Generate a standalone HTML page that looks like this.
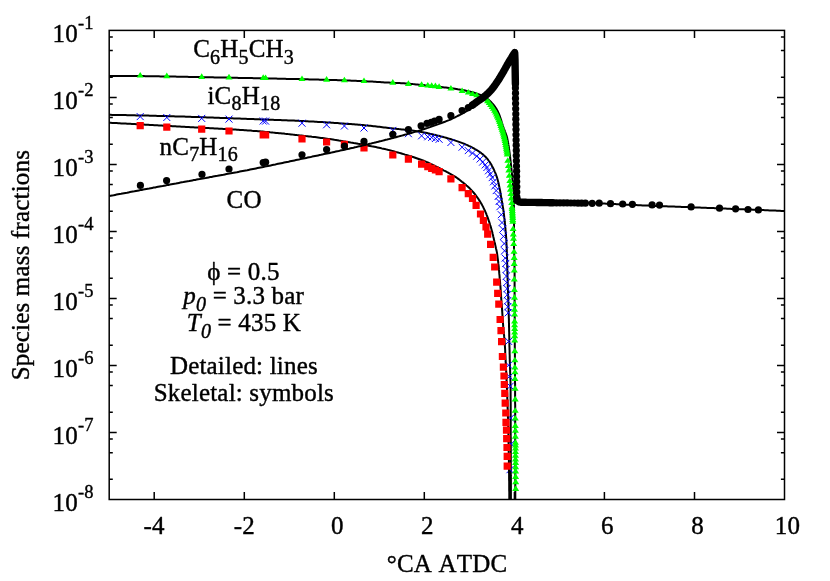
<!DOCTYPE html>
<html><head><meta charset="utf-8"><title>Species mass fractions</title>
<style>html,body{margin:0;padding:0;background:#fff}body{width:830px;height:581px;overflow:hidden;font-family:"Liberation Serif",serif}svg{display:block;will-change:transform}</style></head>
<body>
<svg width="830" height="581" viewBox="0 0 830 581">
<rect width="830" height="581" fill="#fff"/>
<path d="M109.2,36.9h3.6M784.5,36.9h-3.6M109.2,50.6h3.6M784.5,50.6h-3.6M109.2,77.2h3.6M784.5,77.2h-3.6M109.2,97.4h7.5M784.5,97.4h-7.5M109.2,103.9h3.6M784.5,103.9h-3.6M109.2,117.6h3.6M784.5,117.6h-3.6M109.2,144.3h3.6M784.5,144.3h-3.6M109.2,164.4h7.5M784.5,164.4h-7.5M109.2,170.9h3.6M784.5,170.9h-3.6M109.2,184.6h3.6M784.5,184.6h-3.6M109.2,211.3h3.6M784.5,211.3h-3.6M109.2,231.4h7.5M784.5,231.4h-7.5M109.2,237.9h3.6M784.5,237.9h-3.6M109.2,251.6h3.6M784.5,251.6h-3.6M109.2,278.3h3.6M784.5,278.3h-3.6M109.2,298.5h7.5M784.5,298.5h-7.5M109.2,305h3.6M784.5,305h-3.6M109.2,318.6h3.6M784.5,318.6h-3.6M109.2,345.3h3.6M784.5,345.3h-3.6M109.2,365.5h7.5M784.5,365.5h-7.5M109.2,372h3.6M784.5,372h-3.6M109.2,385.6h3.6M784.5,385.6h-3.6M109.2,412.3h3.6M784.5,412.3h-3.6M109.2,432.5h7.5M784.5,432.5h-7.5M109.2,439h3.6M784.5,439h-3.6M109.2,452.7h3.6M784.5,452.7h-3.6M109.2,479.3h3.6M784.5,479.3h-3.6M154.2,499.5v-7.5M154.2,30.4v7.5M244.3,499.5v-7.5M244.3,30.4v7.5M334.3,499.5v-7.5M334.3,30.4v7.5M424.3,499.5v-7.5M424.3,30.4v7.5M514.4,499.5v-7.5M514.4,30.4v7.5M604.4,499.5v-7.5M604.4,30.4v7.5M694.5,499.5v-7.5M694.5,30.4v7.5" stroke="#000" stroke-width="1.5" fill="none"/>
<path d="M109.2,114.8L110.7,114.8L112.2,114.9L113.7,114.9L115.2,114.9L116.7,114.9L118.2,115L119.7,115L121.2,115L122.7,115.1L124.2,115.1L125.7,115.1L127.2,115.2L128.7,115.2L130.2,115.2L131.7,115.3L133.2,115.3L134.7,115.3L136.3,115.4L137.8,115.4L139.3,115.4L140.8,115.5L142.3,115.5L143.8,115.5L145.3,115.6L146.8,115.6L148.3,115.6L149.8,115.7L151.3,115.7L152.8,115.8L154.3,115.8L155.8,115.8L157.3,115.9L158.8,115.9L160.3,116L161.8,116L163.3,116L164.8,116.1L166.3,116.1L167.8,116.2L169.3,116.2L170.8,116.2L172.3,116.3L173.8,116.3L175.3,116.4L176.8,116.4L178.3,116.5L179.8,116.5L181.3,116.5L182.8,116.6L184.3,116.6L185.8,116.7L187.3,116.7L188.8,116.8L190.3,116.8L191.8,116.9L193.3,116.9L194.9,117L196.4,117L197.9,117.1L199.4,117.1L200.9,117.2L202.4,117.2L203.9,117.3L205.4,117.3L206.9,117.4L208.4,117.4L209.9,117.5L211.4,117.5L212.9,117.6L214.4,117.7L215.9,117.7L217.4,117.8L218.9,117.8L220.4,117.9L221.9,117.9L223.4,118L224.9,118L226.4,118.1L227.9,118.2L229.4,118.2L230.9,118.3L232.4,118.3L233.9,118.4L235.4,118.4L236.9,118.5L238.4,118.6L239.9,118.6L241.4,118.7L242.9,118.7L244.4,118.8L245.9,118.8L247.4,118.9L248.9,119L250.4,119L251.9,119.1L253.4,119.1L254.9,119.2L256.4,119.2L257.9,119.3L259.4,119.3L260.9,119.4L262.4,119.4L264,119.5L265.5,119.6L267,119.6L268.5,119.7L270,119.7L271.5,119.8L273,119.8L274.5,119.9L276,119.9L277.5,120L279,120L280.5,120.1L282,120.2L283.5,120.2L285,120.3L286.5,120.3L288,120.4L289.5,120.4L291,120.5L292.5,120.6L294,120.6L295.5,120.7L297,120.8L298.5,120.8L300,120.9L301.5,121L303,121L304.5,121.1L306,121.2L307.5,121.3L309,121.4L310.5,121.4L312,121.5L313.5,121.6L315,121.7L316.5,121.8L318,121.9L319.5,122L321,122.1L322.5,122.1L324,122.2L325.5,122.3L327,122.4L328.5,122.5L330,122.6L331.5,122.7L333,122.8L334.5,122.9L336,123L337.5,123.1L339,123.2L340.5,123.4L342,123.5L343.5,123.6L345,123.7L346.5,123.8L348,123.9L349.5,124L351,124.1L352.5,124.2L354,124.3L355.5,124.5L357,124.6L358.5,124.7L360,124.8L361.5,125L363,125.1L364.5,125.2L366,125.4L367.5,125.5L369,125.7L370.5,125.8L372,126L373.5,126.2L374.9,126.3L376.4,126.5L377.9,126.7L379.4,126.8L380.9,127L382.4,127.2L383.9,127.4L385.4,127.5L386.9,127.7L388.4,127.9L389.9,128.1L391.4,128.2L392.9,128.4L394.4,128.6L395.9,128.7L397.4,128.9L398.9,129.1L400.3,129.2L401.8,129.4L403.3,129.5L404.8,129.7L406.3,129.9L407.8,130L409.3,130.2L410.8,130.4L412.3,130.6L413.8,130.8L415.3,131L416.8,131.2L418.2,131.4L419.7,131.7L421.2,131.9L422.7,132.2L424.2,132.5L425.6,132.8L427.1,133.1L428.6,133.4L430,133.8L431.5,134.1L433,134.4L434.4,134.8L435.9,135.1L437.4,135.5L438.8,135.8L440.3,136.2L441.7,136.6L443.2,137L444.6,137.4L446.1,137.8L447.5,138.2L449,138.6L450.4,139L451.8,139.5L453.3,139.9L454.7,140.4L456.1,140.9L457.6,141.4L459,141.9L460.4,142.4L461.8,142.9L463.2,143.4L464.6,144L466,144.6L467.4,145.1L468.7,145.8L470.1,146.4L471.5,147.1L472.8,147.8L474.1,148.5L475.4,149.3L476.7,150L478,150.8L479.2,151.7L480.5,152.5L481.7,153.5L482.9,154.4L484,155.4L485.1,156.4L486.1,157.5L487.1,158.6L488,159.7L488.9,161L489.8,162.2L490.6,163.5L491.4,164.8L492.1,166.2L492.8,167.5L493.5,168.8L494.1,170.2L494.7,171.6L495.3,172.9L495.9,174.4L496.4,175.8L496.9,177.2L497.3,178.6L497.7,180.1L498.1,181.5L498.5,183L498.8,184.5L499.1,185.9L499.4,187.4L499.7,188.9L500,190.3L500.3,191.8L500.5,193.3L500.8,194.8L501,196.3L501.3,197.8L501.6,199.2L501.8,200.7L502.1,202.2L502.3,203.7L502.6,205.2L502.8,206.6L503.1,208.1L503.3,209.6L503.5,211.1L503.7,212.6L503.9,214.1L504.1,215.6L504.2,217.1L504.4,218.6L504.6,220.1L504.7,221.5L504.9,223L505,224.5L505.2,226L505.3,227.5L505.4,229L505.6,230.5L505.7,232L505.8,233.5L505.9,235L506.1,236.5L506.2,238L506.3,239.5L506.4,241L506.4,242.5L506.5,244L506.6,245.5L506.6,247L506.7,248.5L506.8,250L506.8,251.5L506.9,253L506.9,254.5L507,256L507,257.5L507.1,259L507.1,260.5L507.1,262L507.2,263.6L507.2,265.1L507.2,266.6L507.3,268.1L507.3,269.6L507.4,271.1L507.4,272.6L507.4,274.1L507.5,275.6L507.5,277.1L507.6,278.6L507.6,280.1L507.7,281.6L507.7,283.1L507.8,284.6L507.8,286.1L507.9,287.6L507.9,289.1L508,290.6L508,292.1L508.1,293.6L508.1,295.1L508.2,296.6L508.2,298.1L508.3,299.6L508.3,301.1L508.4,302.6L508.4,304.1L508.5,305.6L508.5,307.1L508.6,308.6L508.6,310.1L508.6,311.6L508.7,313.1L508.7,314.6L508.8,316.1L508.8,317.6L508.9,319.1L508.9,320.6L508.9,322.2L509,323.7L509,325.2L509,326.7L509.1,328.2L509.1,329.7L509.1,331.2L509.2,332.7L509.2,334.2L509.2,335.7L509.3,337.2L509.3,338.7L509.3,340.2L509.3,341.7L509.4,343.2L509.4,344.7L509.4,346.2L509.5,347.7L509.5,349.2L509.6,350.7L509.6,352.2L509.6,353.7L509.7,355.2L509.7,356.7L509.7,358.2L509.8,359.7L509.8,361.2L509.9,362.7L509.9,364.2L509.9,365.7L510,367.2L510,368.7L510.1,370.2L510.1,371.7L510.2,373.2L510.2,374.7L510.3,376.2L510.3,377.8L510.4,379.3L510.4,380.8L510.5,382.3L510.5,383.8L510.5,385.3L510.6,386.8L510.6,388.3L510.6,389.8L510.6,391.3L510.6,392.8L510.6,394.3L510.6,395.8L510.6,397.3L510.6,398.8L510.6,400.3L510.7,401.8L510.7,403.3L510.7,404.8L510.7,406.3L510.7,407.8L510.7,409.3L510.7,410.8L510.7,412.3L510.7,413.8L510.7,415.3L510.7,416.8L510.7,418.3L510.7,419.8L510.7,421.3L510.7,422.8L510.7,424.3L510.7,425.8L510.7,427.3L510.7,428.9L510.7,430.4L510.7,431.9L510.7,433.4L510.7,434.9L510.7,436.4L510.8,437.9L510.8,439.4L510.8,440.9L510.8,442.4L510.8,443.9L510.8,445.4L510.8,446.9L510.8,448.4L510.8,449.9L510.8,451.4L510.8,452.9L510.8,454.4L510.8,455.9L510.8,457.4L510.8,458.9L510.8,460.4L510.8,461.9L510.8,463.4L510.8,464.9L510.8,466.4L510.8,467.9L510.8,469.4L510.8,470.9L510.8,472.4L510.8,473.9L510.8,475.4L510.9,477L510.9,478.5L510.9,480L510.9,481.5L510.9,483L510.9,484.5L510.9,486L510.9,487.5L510.9,489L510.9,490.5L510.9,492L510.9,493.5L510.9,495L510.9,496.5L510.9,498L510.9,499.5" fill="none" stroke="#000" stroke-width="2" stroke-linejoin="round"/>
<path d="M136.7,113.1l7,7M136.7,120.1l7,-7M163.3,114l7,7M163.3,121l7,-7M198.2,114.9l7,7M198.2,121.9l7,-7M225.5,115.6l7,7M225.5,122.6l7,-7M259.7,117.5l7,7M259.7,124.5l7,-7M262.1,117.6l7,7M262.1,124.6l7,-7M298.5,119.7l7,7M298.5,126.7l7,-7M323.1,121.3l7,7M323.1,128.3l7,-7M340.9,122.5l7,7M340.9,129.5l7,-7M360.5,124.5l7,7M360.5,131.5l7,-7M389.3,126.9l7,7M389.3,133.9l7,-7M404.9,130.2l7,7M404.9,137.2l7,-7M418.1,132.3l7,7M418.1,139.3l7,-7M424.3,133.3l7,7M424.3,140.3l7,-7M428.2,133.9l7,7M428.2,140.9l7,-7M431.9,135l7,7M431.9,142l7,-7M435.6,135.8l7,7M435.6,142.8l7,-7M447.4,139l7,7M447.4,146l7,-7M458.6,143.7l7,7M458.6,150.7l7,-7M464.8,147.1l7,7M464.8,154.1l7,-7M469,149.6l7,7M469,156.6l7,-7M473.2,152.7l7,7M473.2,159.7l7,-7M476.6,155.5l7,7M476.6,162.5l7,-7M479.1,158.6l7,7M479.1,165.6l7,-7M481.7,161.4l7,7M481.7,168.4l7,-7M483.4,164l7,7M483.4,171l7,-7M485,167.3l7,7M485,174.3l7,-7M486.7,170.7l7,7M486.7,177.7l7,-7M488.7,174.1l7,7M488.7,181.1l7,-7M490,178.3l7,7M490,185.3l7,-7M491.3,182.5l7,7M491.3,189.5l7,-7M492.7,187.1l7,7M492.7,194.1l7,-7M494.6,193l7,7M494.6,200l7,-7M495.6,198l7,7M495.6,205l7,-7M496.4,203.2l7,7M496.4,210.2l7,-7M497.8,211.2l7,7M497.8,218.2l7,-7M498.5,219.1l7,7M498.5,226.1l7,-7M499.3,225.7l7,7M499.3,232.7l7,-7M500,232.9l7,7M500,239.9l7,-7M500.7,240.1l7,7M500.7,247.1l7,-7M501.1,247.3l7,7M501.1,254.3l7,-7M501.7,254.6l7,7M501.7,261.6l7,-7M502.3,259.9l7,7M502.3,266.9l7,-7M502.6,266l7,7M502.6,273l7,-7M502.9,272.6l7,7M502.9,279.6l7,-7M503.2,279l7,7M503.2,286l7,-7M503.5,285.2l7,7M503.5,292.2l7,-7M503.8,291.3l7,7M503.8,298.3l7,-7M504.1,297.3l7,7M504.1,304.3l7,-7M504.3,303.3l7,7M504.3,310.3l7,-7M504.7,309.3l7,7M504.7,316.3l7,-7M505.1,337.9l7,7M505.1,344.9l7,-7M505.1,361.7l7,7M505.1,368.7l7,-7M505.9,373.1l7,7M505.9,380.1l7,-7M506.7,382.7l7,7M506.7,389.7l7,-7M507.1,414.6l7,7M507.1,421.6l7,-7M507.7,440.5l7,7M507.7,447.5l7,-7M506.5,466.2l7,7M506.5,473.2l7,-7" stroke="#00f" stroke-width="1" fill="none"/>
<path d="M109.2,122.7L110.7,122.8L112.2,122.9L113.7,122.9L115.2,123L116.7,123.1L118.2,123.2L119.7,123.3L121.2,123.4L122.7,123.4L124.2,123.5L125.7,123.6L127.2,123.7L128.8,123.8L130.3,123.8L131.8,123.9L133.3,124L134.8,124.1L136.3,124.2L137.8,124.3L139.3,124.3L140.8,124.4L142.3,124.5L143.8,124.6L145.3,124.7L146.8,124.8L148.3,124.8L149.8,124.9L151.3,125L152.8,125.1L154.3,125.2L155.8,125.3L157.3,125.3L158.8,125.4L160.3,125.5L161.8,125.6L163.3,125.7L164.8,125.8L166.3,125.8L167.9,125.9L169.4,126L170.9,126.1L172.4,126.2L173.9,126.3L175.4,126.3L176.9,126.4L178.4,126.5L179.9,126.6L181.4,126.7L182.9,126.8L184.4,126.8L185.9,126.9L187.4,127L188.9,127.1L190.4,127.2L191.9,127.2L193.4,127.3L194.9,127.4L196.4,127.5L197.9,127.6L199.4,127.6L200.9,127.7L202.4,127.8L204,127.9L205.5,128L207,128L208.5,128.1L210,128.2L211.5,128.3L213,128.3L214.5,128.4L216,128.5L217.5,128.6L219,128.7L220.5,128.8L222,128.8L223.5,128.9L225,129L226.5,129.1L228,129.2L229.5,129.3L231,129.4L232.5,129.4L234,129.5L235.5,129.6L237,129.7L238.5,129.8L240,129.9L241.5,130L243,130.1L244.6,130.2L246.1,130.3L247.6,130.4L249.1,130.5L250.6,130.6L252.1,130.8L253.6,130.9L255.1,131L256.6,131.1L258.1,131.2L259.6,131.3L261.1,131.5L262.6,131.6L264.1,131.7L265.6,131.9L267.1,132L268.6,132.1L270.1,132.3L271.6,132.4L273.1,132.6L274.6,132.7L276.1,132.9L277.6,133L279.1,133.2L280.6,133.3L282.1,133.5L283.6,133.6L285.1,133.8L286.6,133.9L288.1,134.1L289.6,134.2L291.1,134.4L292.5,134.6L294,134.7L295.5,134.9L297,135.1L298.5,135.2L300,135.4L301.5,135.5L303,135.7L304.5,135.9L306,136.1L307.5,136.2L309,136.4L310.5,136.6L312,136.8L313.5,136.9L315,137.1L316.5,137.3L318,137.5L319.5,137.7L321,137.9L322.5,138.1L324,138.3L325.5,138.5L326.9,138.7L328.4,138.9L329.9,139.1L331.4,139.3L332.9,139.5L334.4,139.8L335.9,140L337.4,140.2L338.9,140.5L340.3,140.7L341.8,140.9L343.3,141.2L344.8,141.4L346.3,141.7L347.8,141.9L349.3,142.2L350.7,142.5L352.2,142.7L353.7,143L355.2,143.2L356.7,143.5L358.2,143.8L359.6,144L361.1,144.3L362.6,144.6L364.1,144.9L365.6,145.1L367,145.4L368.5,145.7L370,146L371.5,146.3L373,146.5L374.4,146.8L375.9,147.1L377.4,147.4L378.9,147.7L380.3,148L381.8,148.4L383.3,148.7L384.8,149L386.2,149.4L387.7,149.8L389.1,150.1L390.6,150.5L392.1,150.9L393.5,151.3L395,151.7L396.4,152.1L397.9,152.5L399.3,152.9L400.8,153.3L402.2,153.7L403.7,154.1L405.1,154.6L406.5,155L408,155.4L409.4,155.9L410.9,156.3L412.3,156.8L413.8,157.2L415.2,157.7L416.6,158.2L418,158.7L419.5,159.2L420.9,159.7L422.3,160.2L423.7,160.7L425.1,161.3L426.4,161.9L427.8,162.5L429.2,163.1L430.6,163.8L431.9,164.4L433.3,165.1L434.6,165.8L436,166.5L437.3,167.1L438.7,167.8L440,168.5L441.3,169.2L442.7,169.9L444,170.6L445.4,171.2L446.7,171.9L448.1,172.6L449.4,173.4L450.7,174.1L452,174.8L453.3,175.6L454.6,176.4L455.9,177.2L457.1,178L458.3,178.9L459.5,179.8L460.7,180.7L461.9,181.7L463.1,182.6L464.2,183.6L465.4,184.6L466.5,185.6L467.7,186.6L468.8,187.6L469.9,188.6L471,189.7L472,190.8L473,191.9L473.9,193L474.9,194.2L475.8,195.4L476.7,196.6L477.6,197.8L478.5,199.1L479.3,200.4L480.1,201.6L480.9,202.9L481.7,204.3L482.4,205.6L483.1,206.9L483.7,208.2L484.4,209.6L485,210.9L485.6,212.3L486.2,213.7L486.7,215.1L487.3,216.5L487.8,217.9L488.3,219.4L488.8,220.8L489.3,222.2L489.8,223.7L490.2,225.1L490.7,226.5L491.1,228L491.5,229.4L491.9,230.9L492.3,232.3L492.6,233.8L493,235.3L493.3,236.7L493.7,238.2L494,239.7L494.3,241.2L494.7,242.6L495,244.1L495.4,245.6L495.7,247L496,248.5L496.4,250L496.7,251.4L497,252.9L497.2,254.4L497.4,255.9L497.6,257.4L497.8,258.9L498,260.4L498.2,261.9L498.3,263.4L498.5,264.9L498.7,266.4L498.8,267.9L498.9,269.4L499.1,270.9L499.2,272.4L499.3,273.9L499.5,275.4L499.6,276.9L499.7,278.4L499.9,279.9L500,281.4L500.1,282.9L500.2,284.4L500.4,285.9L500.5,287.4L500.6,288.9L500.7,290.4L500.8,291.9L500.9,293.4L501,294.9L501.1,296.4L501.2,297.9L501.3,299.4L501.4,300.9L501.5,302.4L501.7,303.9L501.8,305.4L501.9,306.9L502,308.4L502.1,309.9L502.2,311.4L502.3,312.9L502.4,314.4L502.5,315.9L502.6,317.4L502.7,318.9L502.8,320.4L502.9,321.9L503,323.4L503.1,324.9L503.2,326.4L503.4,327.9L503.5,329.4L503.6,330.9L503.8,332.4L503.9,333.9L504.1,335.4L504.2,336.9L504.4,338.4L504.5,339.9L504.6,341.4L504.7,342.9L504.8,344.4L504.9,345.9L505,347.4L505.1,349L505.2,350.5L505.2,352L505.3,353.5L505.4,355L505.5,356.5L505.5,358L505.6,359.5L505.7,361L505.7,362.5L505.8,364L505.9,365.5L505.9,367L506,368.5L506.1,370L506.2,371.5L506.2,373L506.3,374.5L506.4,376L506.5,377.5L506.5,379L506.6,380.5L506.7,382.1L506.7,383.6L506.8,385.1L506.9,386.6L506.9,388.1L507,389.6L507,391.1L507.1,392.6L507.2,394.1L507.2,395.6L507.3,397.1L507.3,398.6L507.4,400.1L507.4,401.6L507.5,403.1L507.5,404.6L507.6,406.1L507.6,407.6L507.7,409.1L507.7,410.7L507.8,412.2L507.8,413.7L507.9,415.2L507.9,416.7L508,418.2L508,419.7L508.1,421.2L508.1,422.7L508.1,424.2L508.2,425.7L508.2,427.2L508.3,428.7L508.3,430.2L508.3,431.7L508.4,433.2L508.4,434.7L508.4,436.2L508.5,437.8L508.5,439.3L508.5,440.8L508.5,442.3L508.6,443.8L508.6,445.3L508.6,446.8L508.7,448.3L508.7,449.8L508.7,451.3L508.7,452.8L508.8,454.3L508.8,455.8L508.8,457.3L508.8,458.8L508.9,460.3L508.9,461.8L508.9,463.4L508.9,464.9L509,466.4L509,467.9L509,469.4L509,470.9L509,472.4L509.1,473.9L509.1,475.4L509.1,476.9L509.1,478.4L509.1,479.9L509.2,481.4L509.2,482.9L509.2,484.4L509.2,485.9L509.2,487.4L509.2,489L509.2,490.5L509.3,492L509.3,493.5L509.3,495L509.3,496.5L509.3,498L509.3,499.5" fill="none" stroke="#000" stroke-width="2" stroke-linejoin="round"/>
<path d="M136.6,122h7.2v7.2h-7.2zM163.2,123.6h7.2v7.2h-7.2zM198.1,125.6h7.2v7.2h-7.2zM225.4,127.4h7.2v7.2h-7.2zM259.6,131.2h7.2v7.2h-7.2zM262,131.4h7.2v7.2h-7.2zM298.4,135.2h7.2v7.2h-7.2zM323,138.4h7.2v7.2h-7.2zM340.8,140.8h7.2v7.2h-7.2zM360.4,144.4h7.2v7.2h-7.2zM389.2,151.4h7.2v7.2h-7.2zM404.8,155.6h7.2v7.2h-7.2zM418,160.5h7.2v7.2h-7.2zM424.2,163h7.2v7.2h-7.2zM428.1,164.7h7.2v7.2h-7.2zM431.8,166.4h7.2v7.2h-7.2zM435.5,168.1h7.2v7.2h-7.2zM447.3,175.3h7.2v7.2h-7.2zM458.5,184.1h7.2v7.2h-7.2zM464.7,190h7.2v7.2h-7.2zM468.9,194.9h7.2v7.2h-7.2zM472.5,201.7h7.2v7.2h-7.2zM476.9,210.4h7.2v7.2h-7.2zM479.8,216.9h7.2v7.2h-7.2zM482.4,223.4h7.2v7.2h-7.2zM484.1,230.6h7.2v7.2h-7.2zM487,240.7h7.2v7.2h-7.2zM489.6,253.7h7.2v7.2h-7.2zM491.1,263.4h7.2v7.2h-7.2zM493.1,278.5h7.2v7.2h-7.2zM494.1,289.7h7.2v7.2h-7.2zM495.2,300.6h7.2v7.2h-7.2zM496.5,315.9h7.2v7.2h-7.2zM497.4,327h7.2v7.2h-7.2zM498,338.1h7.2v7.2h-7.2zM498.8,352.9h7.2v7.2h-7.2zM499.8,363.6h7.2v7.2h-7.2zM500.4,372.4h7.2v7.2h-7.2zM500.7,380.9h7.2v7.2h-7.2zM501.2,389.8h7.2v7.2h-7.2zM501.6,399.5h7.2v7.2h-7.2zM502.2,409.4h7.2v7.2h-7.2zM502.4,418.7h7.2v7.2h-7.2zM502.9,426.6h7.2v7.2h-7.2zM503.1,435h7.2v7.2h-7.2zM503.4,443.9h7.2v7.2h-7.2zM503.6,452.8h7.2v7.2h-7.2zM503.6,462.5h7.2v7.2h-7.2z" fill="#f00"/>
<path d="M109.2,75.9L110.7,75.9L112.2,75.9L113.7,75.9L115.2,75.9L116.7,75.9L118.2,75.9L119.7,75.9L121.2,76L122.7,76L124.2,76L125.8,76L127.3,76L128.8,76L130.3,76L131.8,76L133.3,76L134.8,76.1L136.3,76.1L137.8,76.1L139.3,76.1L140.8,76.1L142.3,76.1L143.8,76.1L145.3,76.2L146.8,76.2L148.3,76.2L149.8,76.2L151.3,76.2L152.8,76.3L154.3,76.3L155.8,76.3L157.3,76.3L158.9,76.3L160.4,76.4L161.9,76.4L163.4,76.4L164.9,76.4L166.4,76.5L167.9,76.5L169.4,76.5L170.9,76.5L172.4,76.6L173.9,76.6L175.4,76.6L176.9,76.7L178.4,76.7L179.9,76.7L181.4,76.7L182.9,76.8L184.4,76.8L185.9,76.8L187.4,76.8L188.9,76.9L190.4,76.9L192,76.9L193.5,77L195,77L196.5,77L198,77L199.5,77.1L201,77.1L202.5,77.1L204,77.2L205.5,77.2L207,77.2L208.5,77.2L210,77.3L211.5,77.3L213,77.3L214.5,77.4L216,77.4L217.5,77.4L219,77.5L220.5,77.5L222,77.5L223.5,77.5L225,77.6L226.6,77.6L228.1,77.6L229.6,77.7L231.1,77.7L232.6,77.7L234.1,77.8L235.6,77.8L237.1,77.8L238.6,77.9L240.1,77.9L241.6,77.9L243.1,78L244.6,78L246.1,78L247.6,78.1L249.1,78.1L250.6,78.1L252.1,78.1L253.6,78.2L255.1,78.2L256.6,78.2L258.1,78.3L259.6,78.3L261.2,78.3L262.7,78.4L264.2,78.4L265.7,78.4L267.2,78.4L268.7,78.5L270.2,78.5L271.7,78.5L273.2,78.6L274.7,78.6L276.2,78.6L277.7,78.7L279.2,78.7L280.7,78.7L282.2,78.8L283.7,78.8L285.2,78.8L286.7,78.9L288.2,78.9L289.7,78.9L291.2,78.9L292.7,79L294.2,79L295.8,79.1L297.3,79.1L298.8,79.1L300.3,79.2L301.8,79.2L303.3,79.2L304.8,79.3L306.3,79.3L307.8,79.3L309.3,79.4L310.8,79.4L312.3,79.5L313.8,79.5L315.3,79.5L316.8,79.6L318.3,79.6L319.8,79.7L321.3,79.7L322.8,79.7L324.3,79.8L325.8,79.8L327.3,79.9L328.8,79.9L330.3,80L331.9,80L333.4,80.1L334.9,80.1L336.4,80.1L337.9,80.2L339.4,80.2L340.9,80.3L342.4,80.3L343.9,80.4L345.4,80.4L346.9,80.5L348.4,80.6L349.9,80.6L351.4,80.7L352.9,80.7L354.4,80.8L355.9,80.8L357.4,80.9L358.9,81L360.4,81L361.9,81.1L363.4,81.2L364.9,81.2L366.4,81.3L367.9,81.4L369.4,81.5L370.9,81.6L372.4,81.6L373.9,81.7L375.4,81.8L377,81.9L378.5,82L380,82.1L381.5,82.2L383,82.3L384.5,82.4L386,82.4L387.5,82.5L389,82.6L390.5,82.7L392,82.8L393.5,82.8L395,82.9L396.5,82.9L398,83L399.5,83.1L401,83.2L402.5,83.2L404,83.3L405.5,83.5L407,83.6L408.5,83.7L410,83.8L411.5,83.9L413,84.1L414.5,84.2L416,84.4L417.5,84.5L419,84.7L420.5,84.8L422,85L423.5,85.1L425,85.3L426.5,85.4L428,85.6L429.5,85.7L431,85.9L432.5,86L434,86.2L435.5,86.3L437,86.5L438.4,86.7L439.9,86.8L441.4,87L442.9,87.2L444.4,87.4L445.9,87.6L447.4,87.8L448.9,88L450.4,88.2L451.9,88.4L453.4,88.6L454.9,88.8L456.3,89L457.8,89.3L459.3,89.5L460.8,89.8L462.3,90.1L463.8,90.3L465.2,90.6L466.7,90.9L468.2,91.2L469.7,91.6L471.1,91.9L472.6,92.3L474.1,92.7L475.5,93.1L476.9,93.6L478.4,94.1L479.7,94.6L481.1,95.2L482.5,95.8L483.8,96.5L485.1,97.3L486.4,98.1L487.6,99L488.8,99.9L489.9,100.9L491,102L492,103.1L493,104.2L494,105.4L494.9,106.6L495.7,107.9L496.6,109.1L497.3,110.4L498,111.8L498.6,113.1L499.2,114.5L499.7,115.9L500.2,117.4L500.7,118.8L501.2,120.2L501.6,121.7L502,123.1L502.5,124.5L502.9,126L503.4,127.4L503.9,128.8L504.5,130.2L505,131.6L505.6,133.1L506.1,134.5L506.6,135.9L507,137.3L507.3,138.8L507.6,140.2L507.9,141.7L508.2,143.2L508.4,144.7L508.7,146.2L508.9,147.6L509.1,149.1L509.3,150.6L509.5,152.1L509.7,153.6L509.9,155.1L510.1,156.6L510.2,158.1L510.4,159.6L510.6,161.1L510.8,162.6L510.9,164.1L511.1,165.6L511.3,167.1L511.4,168.6L511.6,170.1L511.7,171.6L511.9,173.1L512,174.6L512.1,176.1L512.3,177.6L512.4,179.1L512.6,180.6L512.7,182.1L512.9,183.6L513,185.1L513.2,186.6L513.3,188.1L513.5,189.6L513.6,191.1L513.7,192.6L513.8,194.1L513.9,195.6L513.9,197.1L513.9,198.6L513.9,200.1L513.9,201.6L513.9,203.1L513.9,204.6L513.9,206.1L513.9,207.6L513.9,209.1L513.9,210.6L513.9,212.1L513.9,213.6L513.9,215.1L513.9,216.6L513.9,218.1L513.9,219.6L514,221.1L514,222.6L514,224.1L514,225.6L514,227.2L514,228.7L514,230.2L514,231.7L514,233.2L514,234.7L514,236.2L514,237.7L514,239.2L514,240.7L514,242.2L514,243.7L514,245.2L514,246.7L514,248.2L514.1,249.7L514.1,251.2L514.2,252.7L514.2,254.2L514.3,255.7L514.4,257.2L514.4,258.8L514.5,260.3L514.5,261.8L514.5,263.3L514.5,264.8L514.5,266.3L514.5,267.8L514.5,269.3L514.6,270.8L514.6,272.3L514.6,273.8L514.6,275.3L514.6,276.8L514.6,278.3L514.6,279.8L514.6,281.3L514.6,282.8L514.6,284.3L514.6,285.8L514.6,287.3L514.6,288.8L514.6,290.3L514.6,291.9L514.6,293.4L514.6,294.9L514.6,296.4L514.6,297.9L514.6,299.4L514.6,300.9L514.6,302.4L514.7,303.9L514.7,305.4L514.7,306.9L514.7,308.4L514.7,309.9L514.7,311.4L514.7,312.9L514.7,314.4L514.7,315.9L514.7,317.4L514.7,318.9L514.7,320.4L514.7,321.9L514.7,323.5L514.7,325L514.7,326.5L514.7,328L514.7,329.5L514.7,331L514.8,332.5L514.8,334L514.8,335.5L514.8,337L514.8,338.5L514.8,340L514.8,341.5L514.8,343L514.8,344.5L514.8,346L514.8,347.5L514.8,349L514.9,350.5L514.9,352L514.9,353.5L514.9,355.1L514.9,356.6L514.9,358.1L514.9,359.6L514.9,361.1L514.9,362.6L514.9,364.1L514.9,365.6L515,367.1L515,368.6L515,370.1L515,371.6L515,373.1L515,374.6L515,376.1L515,377.6L515,379.1L515,380.6L515,382.1L515.1,383.6L515.1,385.1L515.1,386.6L515.1,388.2L515.1,389.7L515.1,391.2L515.1,392.7L515.1,394.2L515.1,395.7L515.1,397.2L515.1,398.7L515.1,400.2L515.1,401.7L515.1,403.2L515.2,404.7L515.2,406.2L515.2,407.7L515.2,409.2L515.2,410.7L515.2,412.2L515.2,413.7L515.2,415.2L515.2,416.7L515.2,418.2L515.2,419.8L515.2,421.3L515.2,422.8L515.2,424.3L515.2,425.8L515.2,427.3L515.2,428.8L515.2,430.3L515.2,431.8L515.2,433.3L515.2,434.8L515.2,436.3L515.2,437.8L515.2,439.3L515.2,440.8L515.2,442.3L515.2,443.8L515.2,445.3L515.2,446.8L515.3,448.3L515.3,449.8L515.3,451.3L515.3,452.9L515.3,454.4L515.3,455.9L515.3,457.4L515.3,458.9L515.3,460.4L515.3,461.9L515.3,463.4L515.3,464.9L515.3,466.4L515.3,467.9L515.3,469.4L515.3,470.9L515.3,472.4L515.3,473.9L515.3,475.4L515.3,476.9L515.3,478.4L515.3,479.9L515.3,481.4L515.3,482.9L515.3,484.5L515.3,486L515.3,487.5L515.3,489L515.3,490.5L515.3,492L515.3,493.5L515.3,495L515.3,496.5L515.3,498L515.3,499.5" fill="none" stroke="#000" stroke-width="2" stroke-linejoin="round"/>
<path d="M140.2,72l-3.5,5.6h7zM166.8,72.6l-3.5,5.6h7zM201.7,73.3l-3.5,5.6h7zM229,73.8l-3.5,5.6h7zM263.2,74.3l-3.5,5.6h7zM265.6,74.4l-3.5,5.6h7zM302,75.5l-3.5,5.6h7zM326.6,76.1l-3.5,5.6h7zM344.4,76.7l-3.5,5.6h7zM364,77.5l-3.5,5.6h7zM392.8,79.1l-3.5,5.6h7zM408.4,80.3l-3.5,5.6h7zM421.6,81.3l-3.5,5.6h7zM427.8,82l-3.5,5.6h7zM431.7,82.3l-3.5,5.6h7zM435.4,82.6l-3.5,5.6h7zM439.1,83.3l-3.5,5.6h7zM450.9,85l-3.5,5.6h7zM462.1,87.4l-3.5,5.6h7zM468.3,89l-3.5,5.6h7zM472.5,90.4l-3.5,5.6h7zM476.7,91.7l-3.5,5.6h7zM482.1,93.8l-3.5,5.6h7zM485.3,95.7l-3.5,5.6h7zM487.6,97.6l-3.5,5.6h7zM489.2,99.5l-3.5,5.6h7zM490.6,101.4l-3.5,5.6h7zM492.1,103.3l-3.5,5.6h7zM493.4,105.2l-3.5,5.6h7zM494.6,107.1l-3.5,5.6h7zM495.6,109l-3.5,5.6h7zM496.5,110.9l-3.5,5.6h7zM497.3,112.8l-3.5,5.6h7zM498.2,114.7l-3.5,5.6h7zM499,116.6l-3.5,5.6h7zM499.7,118.5l-3.5,5.6h7zM500.3,120.4l-3.5,5.6h7zM500.9,122.3l-3.5,5.6h7zM501.5,124.2l-3.5,5.6h7zM502.1,126.1l-3.5,5.6h7zM502.7,128l-3.5,5.6h7zM503.2,129.9l-3.5,5.6h7zM503.8,131.8l-3.5,5.6h7zM504.2,133.7l-3.5,5.6h7zM504.7,135.6l-3.5,5.6h7zM505.1,137.5l-3.5,5.6h7zM505.4,139.4l-3.5,5.6h7zM505.8,141.3l-3.5,5.6h7zM506.1,143.2l-3.5,5.6h7zM506.4,145.1l-3.5,5.6h7zM506.7,147l-3.5,5.6h7zM507,148.9l-3.5,5.6h7zM507.2,150.8l-3.5,5.6h7zM507.8,157.2l-3.5,5.6h7zM508.4,162.5l-3.5,5.6h7zM508.8,166.9l-3.5,5.6h7zM509.3,172.2l-3.5,5.6h7zM509.8,177.5l-3.5,5.6h7zM510.1,181.8l-3.5,5.6h7zM510.4,186.1l-3.5,5.6h7zM510.9,190.5l-3.5,5.6h7zM511.3,194.8l-3.5,5.6h7zM511.7,199.5l-3.5,5.6h7zM512,203.7l-3.5,5.6h7zM512.1,205.5l-3.5,5.6h7zM512.3,207.3l-3.5,5.6h7zM512.4,209.1l-3.5,5.6h7zM512.5,210.9l-3.5,5.6h7zM512.6,212.7l-3.5,5.6h7zM512.7,214.5l-3.5,5.6h7zM512.7,216.3l-3.5,5.6h7zM512.8,218.1l-3.5,5.6h7zM513.1,225.5l-3.5,5.6h7zM513.3,230.8l-3.5,5.6h7zM513.5,235.2l-3.5,5.6h7zM513.7,240.5l-3.5,5.6h7zM514,248.2l-3.5,5.6h7zM514.2,254.3l-3.5,5.6h7zM514.2,260.3l-3.5,5.6h7zM514.3,267l-3.5,5.6h7zM514.3,276l-3.5,5.6h7zM514.4,286.3l-3.5,5.6h7zM514.5,294.1l-3.5,5.6h7zM514.5,300.7l-3.5,5.6h7zM514.5,306.1l-3.5,5.6h7zM514.6,310.9l-3.5,5.6h7zM514.6,317.8l-3.5,5.6h7zM514.6,321.7l-3.5,5.6h7zM514.7,325.3l-3.5,5.6h7zM514.7,329l-3.5,5.6h7zM514.7,332.6l-3.5,5.6h7zM514.7,336.8l-3.5,5.6h7zM514.8,347.6l-3.5,5.6h7zM514.9,356.7l-3.5,5.6h7zM514.9,363.9l-3.5,5.6h7zM515,368.7l-3.5,5.6h7zM515,375.3l-3.5,5.6h7zM515.1,385.2l-3.5,5.6h7zM515.2,395.8l-3.5,5.6h7zM515.2,407.2l-3.5,5.6h7zM515.3,415l-3.5,5.6h7zM515.3,422.3l-3.5,5.6h7zM515.4,427.1l-3.5,5.6h7zM515.4,433.1l-3.5,5.6h7zM515.4,439.1l-3.5,5.6h7zM515.5,441.8l-3.5,5.6h7zM515.5,444.9l-3.5,5.6h7zM515.5,448.5l-3.5,5.6h7zM515.5,452.1l-3.5,5.6h7zM515.5,455.8l-3.5,5.6h7zM515.6,459.3l-3.5,5.6h7zM515.6,463.6l-3.5,5.6h7zM515.6,467.8l-3.5,5.6h7zM515.6,473.3l-3.5,5.6h7zM515.7,478.6l-3.5,5.6h7zM515.7,485.3l-3.5,5.6h7z" fill="#0f0"/>
<path d="M109.2,196L110.7,195.7L112.2,195.4L113.6,195.2L115.1,194.9L116.6,194.6L118.1,194.3L119.6,194L121.1,193.8L122.5,193.5L124,193.2L125.5,192.9L127,192.7L128.5,192.4L130,192.1L131.4,191.8L132.9,191.5L134.4,191.3L135.9,191L137.4,190.7L138.9,190.4L140.3,190.1L141.8,189.9L143.3,189.6L144.8,189.3L146.3,189L147.8,188.7L149.2,188.5L150.7,188.2L152.2,187.9L153.7,187.6L155.2,187.4L156.7,187.1L158.1,186.8L159.6,186.5L161.1,186.2L162.6,186L164.1,185.7L165.6,185.4L167,185.1L168.5,184.9L170,184.6L171.5,184.3L173,184L174.5,183.7L175.9,183.5L177.4,183.2L178.9,182.9L180.4,182.6L181.9,182.3L183.4,182.1L184.8,181.8L186.3,181.5L187.8,181.2L189.3,181L190.8,180.7L192.3,180.4L193.8,180.1L195.2,179.9L196.7,179.6L198.2,179.3L199.7,179.1L201.2,178.8L202.7,178.5L204.1,178.2L205.6,178L207.1,177.7L208.6,177.4L210.1,177.1L211.6,176.9L213.1,176.6L214.5,176.3L216,176L217.5,175.8L219,175.5L220.5,175.2L222,174.9L223.4,174.7L224.9,174.4L226.4,174.1L227.9,173.8L229.4,173.6L230.9,173.3L232.3,173L233.8,172.7L235.3,172.4L236.8,172.2L238.3,171.9L239.8,171.6L241.2,171.3L242.7,171L244.2,170.7L245.7,170.4L247.2,170.2L248.6,169.9L250.1,169.6L251.6,169.3L253.1,169L254.6,168.7L256,168.4L257.5,168.1L259,167.8L260.5,167.5L262,167.2L263.4,166.9L264.9,166.6L266.4,166.3L267.9,166L269.4,165.7L270.8,165.4L272.3,165.1L273.8,164.8L275.3,164.5L276.7,164.1L278.2,163.8L279.7,163.5L281.2,163.2L282.6,162.9L284.1,162.6L285.6,162.3L287.1,162L288.6,161.7L290,161.3L291.5,161L293,160.7L294.5,160.4L295.9,160.1L297.4,159.8L298.9,159.5L300.4,159.1L301.8,158.8L303.3,158.5L304.8,158.2L306.3,157.9L307.7,157.6L309.2,157.3L310.7,157L312.2,156.6L313.7,156.3L315.1,156L316.6,155.7L318.1,155.4L319.6,155.1L321,154.8L322.5,154.4L324,154.1L325.5,153.8L326.9,153.5L328.4,153.2L329.9,152.9L331.4,152.6L332.8,152.2L334.3,151.9L335.8,151.6L337.3,151.3L338.7,151L340.2,150.6L341.7,150.3L343.2,150L344.6,149.7L346.1,149.3L347.6,149L349.1,148.7L350.5,148.3L352,148L353.5,147.7L354.9,147.3L356.4,147L357.9,146.6L359.4,146.3L360.8,146L362.3,145.6L363.8,145.3L365.2,144.9L366.7,144.6L368.2,144.2L369.6,143.8L371.1,143.5L372.6,143.1L374,142.8L375.5,142.4L377,142.1L378.4,141.7L379.9,141.3L381.4,141L382.8,140.6L384.3,140.2L385.7,139.8L387.2,139.5L388.7,139.1L390.1,138.7L391.6,138.3L393.1,138L394.5,137.6L396,137.2L397.4,136.8L398.9,136.4L400.3,136L401.8,135.6L403.3,135.2L404.7,134.8L406.2,134.4L407.6,134L409.1,133.6L410.5,133.2L412,132.8L413.4,132.4L414.9,131.9L416.3,131.5L417.8,131.1L419.2,130.6L420.7,130.2L422.1,129.7L423.5,129.3L425,128.8L426.4,128.3L427.8,127.9L429.3,127.4L430.7,126.9L432.1,126.4L433.5,125.9L435,125.4L436.4,124.9L437.8,124.4L439.2,123.9L440.7,123.4L442.1,122.8L443.5,122.3L444.9,121.8L446.3,121.2L447.7,120.6L449.1,120.1L450.5,119.5L451.8,118.8L453.2,118.2L454.6,117.6L455.9,116.9L457.3,116.2L458.6,115.5L460,114.8L461.3,114.1L462.6,113.4L464,112.7L465.3,111.9L466.6,111.2L467.9,110.4L469.1,109.6L470.4,108.8L471.7,108L472.9,107.1L474.2,106.2L475.4,105.4L476.6,104.5L477.9,103.6L479.1,102.7L480.3,101.8L481.5,100.9L482.7,100L483.9,99.1L485.1,98.2L486.3,97.2L487.4,96.2L488.4,95.1L489.5,94L490.5,92.9L491.5,91.8L492.5,90.6L493.4,89.4L494.4,88.3L495.3,87.1L496.2,85.9L497.1,84.7L498,83.5L498.9,82.2L499.8,81L500.6,79.7L501.4,78.5L502.3,77.2L503.1,75.9L503.8,74.6L504.6,73.3L505.4,72L506.1,70.7L506.9,69.4L507.6,68.1L508.3,66.7L509,65.4L509.7,64.1L510.4,62.7L511.1,61.4L511.7,60L512.3,58.6L513,57.3L513.6,55.9L514.2,54.5L514.9,53.2L515.6,51.8L516.3,50.5L516.3,50.5L517.2,200.5L518.5,201.8L518.5,201.8L520,201.8L521.5,201.8L523,201.8L524.5,201.9L526.1,201.9L527.6,201.9L529.1,201.9L530.6,201.9L532.1,202L533.6,202L535.1,202L536.6,202L538.2,202L539.7,202.1L541.2,202.1L542.7,202.1L544.2,202.1L545.7,202.2L547.2,202.2L548.7,202.2L550.3,202.2L551.8,202.3L553.3,202.3L554.8,202.3L556.3,202.3L557.8,202.4L559.3,202.4L560.8,202.4L562.4,202.4L563.9,202.5L565.4,202.5L566.9,202.5L568.4,202.6L569.9,202.6L571.4,202.6L572.9,202.6L574.5,202.7L576,202.7L577.5,202.7L579,202.8L580.5,202.8L582,202.8L583.5,202.9L585,202.9L586.5,203L588.1,203L589.6,203L591.1,203.1L592.6,203.1L594.1,203.2L595.6,203.2L597.1,203.3L598.6,203.4L600.1,203.4L601.7,203.5L603.2,203.6L604.7,203.6L606.2,203.7L607.7,203.8L609.2,203.8L610.7,203.9L612.2,204L613.7,204.1L615.3,204.1L616.8,204.2L618.3,204.3L619.8,204.4L621.3,204.4L622.8,204.5L624.3,204.6L625.8,204.7L627.3,204.7L628.9,204.8L630.4,204.9L631.9,204.9L633.4,205L634.9,205.1L636.4,205.1L637.9,205.2L639.4,205.3L640.9,205.3L642.4,205.4L644,205.5L645.5,205.5L647,205.6L648.5,205.6L650,205.7L651.5,205.8L653,205.8L654.5,205.9L656,205.9L657.6,206L659.1,206.1L660.6,206.1L662.1,206.2L663.6,206.2L665.1,206.3L666.6,206.3L668.1,206.4L669.7,206.5L671.2,206.5L672.7,206.6L674.2,206.6L675.7,206.7L677.2,206.7L678.7,206.8L680.2,206.8L681.7,206.9L683.3,207L684.8,207L686.3,207.1L687.8,207.1L689.3,207.2L690.8,207.2L692.3,207.3L693.8,207.4L695.3,207.4L696.9,207.5L698.4,207.5L699.9,207.6L701.4,207.7L702.9,207.7L704.4,207.8L705.9,207.8L707.4,207.9L708.9,208L710.5,208L712,208.1L713.5,208.1L715,208.2L716.5,208.3L718,208.3L719.5,208.4L721,208.4L722.5,208.5L724.1,208.5L725.6,208.6L727.1,208.7L728.6,208.7L730.1,208.8L731.6,208.9L733.1,208.9L734.6,209L736.1,209L737.7,209.1L739.2,209.2L740.7,209.2L742.2,209.3L743.7,209.3L745.2,209.4L746.7,209.5L748.2,209.5L749.7,209.6L751.3,209.6L752.8,209.7L754.3,209.8L755.8,209.8L757.3,209.9L758.8,209.9L760.3,210L761.8,210.1L763.3,210.1L764.9,210.2L766.4,210.3L767.9,210.3L769.4,210.4L770.9,210.4L772.4,210.5L773.9,210.6L775.4,210.6L776.9,210.7L778.5,210.8L780,210.8L781.5,210.9L783,210.9L784.5,211" fill="none" stroke="#000" stroke-width="2" stroke-linejoin="round"/>
<g fill="none" stroke="#000" stroke-width="7.4" stroke-linecap="round" stroke-linejoin="round">
<path d="M472.5,105L473.7,104.1L475,103.2L476.3,102.2L477.5,101.4L478.8,100.5L480.1,99.6L481.4,98.8L482.7,97.9L483.9,96.9L485.1,95.9L486.2,94.9L487.4,93.9L488.5,92.8L489.6,91.7L490.7,90.5L491.7,89.4L492.7,88.2L493.6,87L494.5,85.8L495.4,84.5L496.3,83.2L497.2,81.9L498,80.6L498.9,79.3L499.7,78L500.5,76.6L501.3,75.3L502.1,74L502.9,72.6L503.7,71.3L504.4,69.9L505.2,68.6L505.9,67.2L506.7,65.9L507.4,64.5L508.2,63.2L509,61.8L509.8,60.5L510.6,59.2L511.4,57.9L512.2,56.5L513,55.2L513.9,53.9L514.7,52.6L514.7,52.6L515,60L515.4,84"/>
<path d="M517.1,199.5L517.9,201.1L519.1,201.8L520.7,202.2L522.3,202.2L523.9,202.3L525.5,202.3L527.1,202.4L528.8,202.4L530.4,202.4L532,202.4L533.6,202.4L535.2,202.4L536.9,202.5L538.5,202.5L540.1,202.5L541.7,202.5L543.3,202.6L544.9,202.6L546.5,202.6L548.2,202.6L549.8,202.7L551.4,202.7L553,202.7"/>
</g>
<g fill="#000">
<circle cx="140.4" cy="185.4" r="3.6"/><circle cx="166.6" cy="180.6" r="3.6"/><circle cx="202" cy="174.4" r="3.6"/><circle cx="229" cy="169" r="3.6"/><circle cx="263.2" cy="162.6" r="3.6"/><circle cx="265.6" cy="162.2" r="3.6"/><circle cx="302" cy="154.8" r="3.6"/><circle cx="326.6" cy="149.6" r="3.6"/><circle cx="344.4" cy="146" r="3.6"/><circle cx="364" cy="141.4" r="3.6"/><circle cx="392.8" cy="134.4" r="3.6"/><circle cx="408.4" cy="129.6" r="3.6"/><circle cx="421.1" cy="125.8" r="3.6"/><circle cx="427" cy="123.3" r="3.6"/><circle cx="431.2" cy="122.3" r="3.6"/><circle cx="434.6" cy="121.1" r="3.6"/><circle cx="439.1" cy="119.4" r="3.6"/><circle cx="450.9" cy="115.7" r="3.6"/><circle cx="462.1" cy="110.6" r="3.6"/><circle cx="468.3" cy="107.6" r="3.6"/><circle cx="472.5" cy="105" r="3.6"/><circle cx="556.5" cy="202.8" r="3.6"/><circle cx="560" cy="202.8" r="3.6"/><circle cx="563.6" cy="202.9" r="3.6"/><circle cx="567.2" cy="202.9" r="3.6"/><circle cx="570.8" cy="203" r="3.6"/><circle cx="574.4" cy="203" r="3.6"/><circle cx="578" cy="203.1" r="3.6"/><circle cx="581.6" cy="203.1" r="3.6"/><circle cx="585.4" cy="203.2" r="3.6"/><circle cx="592.2" cy="203.3" r="3.6"/><circle cx="599.2" cy="203.2" r="3.6"/><circle cx="610.5" cy="203.7" r="3.6"/><circle cx="622.7" cy="204" r="3.6"/><circle cx="632.4" cy="204.3" r="3.6"/><circle cx="652.1" cy="204.9" r="3.6"/><circle cx="659.5" cy="205.1" r="3.6"/><circle cx="691.1" cy="206.9" r="3.6"/><circle cx="719.5" cy="208.2" r="3.6"/><circle cx="735.6" cy="208.8" r="3.6"/><circle cx="748" cy="209.5" r="3.6"/><circle cx="758.4" cy="209.9" r="3.6"/><circle cx="515.4" cy="88" r="3.6"/><circle cx="515.5" cy="93.2" r="3.6"/><circle cx="515.5" cy="98.4" r="3.6"/><circle cx="515.6" cy="103.6" r="3.6"/><circle cx="515.7" cy="108.8" r="3.6"/><circle cx="515.8" cy="114" r="3.6"/><circle cx="515.8" cy="119.2" r="3.6"/><circle cx="515.9" cy="124.4" r="3.6"/><circle cx="516" cy="129.6" r="3.6"/><circle cx="516" cy="134.8" r="3.6"/><circle cx="516.1" cy="140" r="3.6"/><circle cx="516.2" cy="145.2" r="3.6"/><circle cx="516.3" cy="150.4" r="3.6"/><circle cx="516.3" cy="155.6" r="3.6"/><circle cx="516.4" cy="160.8" r="3.6"/><circle cx="516.5" cy="166" r="3.6"/><circle cx="516.6" cy="171.2" r="3.6"/><circle cx="516.6" cy="176.4" r="3.6"/><circle cx="516.7" cy="181.6" r="3.6"/><circle cx="516.8" cy="186.8" r="3.6"/><circle cx="516.8" cy="192" r="3.6"/><circle cx="516.9" cy="197.2" r="3.6"/>
</g>
<rect x="109.2" y="30.4" width="675.3" height="469.1" fill="none" stroke="#000" stroke-width="1.5"/>
<g font-family="'Liberation Serif', serif" font-size="25" fill="#000" stroke="#000" stroke-width="0.4" stroke-linejoin="round" style="font-kerning:none;letter-spacing:0.19px">
<text x="52.5" y="41.9">10<tspan font-size="18.5" dy="-13">-1</tspan></text>
<text x="52.5" y="108.9">10<tspan font-size="18.5" dy="-13">-2</tspan></text>
<text x="52.5" y="175.9">10<tspan font-size="18.5" dy="-13">-3</tspan></text>
<text x="52.5" y="242.9">10<tspan font-size="18.5" dy="-13">-4</tspan></text>
<text x="52.5" y="310">10<tspan font-size="18.5" dy="-13">-5</tspan></text>
<text x="52.5" y="377">10<tspan font-size="18.5" dy="-13">-6</tspan></text>
<text x="52.5" y="444">10<tspan font-size="18.5" dy="-13">-7</tspan></text>
<text x="52.5" y="511">10<tspan font-size="18.5" dy="-13">-8</tspan></text>
<text x="154.2" y="533.6" text-anchor="middle">-4</text>
<text x="244.3" y="533.6" text-anchor="middle">-2</text>
<text x="337.3" y="533.6" text-anchor="middle">0</text>
<text x="427.3" y="533.6" text-anchor="middle">2</text>
<text x="517.4" y="533.6" text-anchor="middle">4</text>
<text x="607.4" y="533.6" text-anchor="middle">6</text>
<text x="697.5" y="533.6" text-anchor="middle">8</text>
<text x="787.5" y="533.6" text-anchor="middle">10</text>
<text x="447.1" y="571.6" text-anchor="middle">°CA ATDC</text>
<text transform="translate(28.5,265.1) rotate(-90)" text-anchor="middle">Species mass fractions</text>
<text x="243.6" y="57.1" text-anchor="middle">C<tspan font-size="20" dy="6.8">6</tspan><tspan dy="-6.8">H</tspan><tspan font-size="20" dy="6.8">5</tspan><tspan dy="-6.8">CH</tspan><tspan font-size="20" dy="6.8">3</tspan></text>
<text x="243.9" y="103.5" text-anchor="middle">iC<tspan font-size="20" dy="6.8">8</tspan><tspan dy="-6.8">H</tspan><tspan font-size="20" dy="6.8">18</tspan></text>
<text x="198.8" y="154.5" text-anchor="middle">nC<tspan font-size="20" dy="6.8">7</tspan><tspan dy="-6.8">H</tspan><tspan font-size="20" dy="6.8">16</tspan></text>
<text x="244.1" y="208.3" text-anchor="middle">CO</text>
<text x="243.5" y="280.1" text-anchor="middle">ϕ = 0.5</text>
<text x="243.7" y="304.4" text-anchor="middle"><tspan font-style="italic">p</tspan><tspan font-style="italic" font-size="20" dy="6.8">0</tspan><tspan dy="-6.8"> = 3.3 bar</tspan></text>
<text x="243.9" y="331.0" text-anchor="middle"><tspan font-style="italic">T</tspan><tspan font-style="italic" font-size="20" dy="6.8">0</tspan><tspan dy="-6.8"> = 435 K</tspan></text>
<text x="243.9" y="373.7" text-anchor="middle">Detailed: lines</text>
<text x="243.9" y="400.6" text-anchor="middle">Skeletal: symbols</text>
</g>
</svg>
</body></html>
